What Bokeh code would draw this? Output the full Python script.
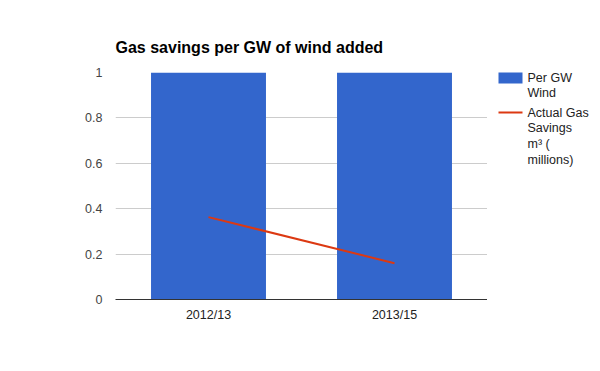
from bokeh.plotting import figure
from bokeh.models import FixedTicker, CustomJSTickFormatter, Range1d
from bokeh.layouts import row
from bokeh.core.properties import value
from bokeh.embed import file_html
from bokeh.resources import INLINE

categories = ["2012/13", "2013/15"]
per_gw_wind = [1.0, 1.0]
actual_gas_savings = [0.363, 0.16]
y_ticks = [0, 0.2, 0.4, 0.6, 0.8, 1]
title_text = "Gas savings per GW of wind added"
legend_bar = ["Per GW", "Wind"]
legend_line = ["Actual Gas", "Savings", "m³ (", "millions)"]

FONT = "Liberation Sans"
BLUE = "#3366cc"
RED = "#dc3912"
LABEL_SIZE = "12.5px"

p = figure(x_range=categories, y_range=(0, 1), width=487, height=371,
           output_backend="svg", toolbar_location=None,
           min_border_left=115, min_border_right=0,
           min_border_top=72, min_border_bottom=72)
p.outline_line_color = None

p.vbar(x=categories, top=per_gw_wind, width=0.618, color=BLUE, line_color=None)
p.line(x=categories, y=actual_gas_savings, line_color=RED, line_width=2)

p.title.text = title_text
p.title.align = "left"
p.title.text_font = FONT
p.title.text_font_size = "16px"
p.title.text_font_style = "bold"
p.title.text_color = "#000000"
p.title.standoff = 33

p.xgrid.grid_line_color = None
p.ygrid.grid_line_color = "#cccccc"
p.ygrid.ticker = FixedTicker(ticks=y_ticks)

p.yaxis.ticker = FixedTicker(ticks=y_ticks)
p.yaxis.formatter = CustomJSTickFormatter(code="return String(Math.round(tick*10)/10)")
p.yaxis.axis_line_color = None
p.yaxis.major_tick_line_color = None
p.yaxis.minor_tick_line_color = None
p.yaxis.major_tick_out = 0
p.yaxis.major_tick_in = 0
p.yaxis.major_label_standoff = 13
p.yaxis.major_label_text_font = FONT
p.yaxis.major_label_text_font_size = LABEL_SIZE
p.yaxis.major_label_text_color = "#444444"

p.xaxis.axis_line_color = "#333333"
p.xaxis.major_tick_line_color = None
p.xaxis.minor_tick_line_color = None
p.xaxis.major_tick_out = 0
p.xaxis.major_tick_in = 0
p.xaxis.major_label_standoff = 8
p.xaxis.major_label_text_font = FONT
p.xaxis.major_label_text_font_size = LABEL_SIZE
p.xaxis.major_label_text_color = "#222222"

# legend panel: frame aligned with the main frame; data units = page pixels (y downward)
lg = figure(x_range=Range1d(487, 600), y_range=Range1d(299, 72), width=113, height=371,
            output_backend="svg", toolbar_location=None,
            min_border=0, min_border_left=0, min_border_right=0,
            min_border_top=72, min_border_bottom=72)
lg.axis.visible = False
lg.grid.visible = False
lg.outline_line_color = None

lg.quad(left=[498], right=[522], top=[71], bottom=[83], fill_color=BLUE, line_color=None)
lg.segment(x0=[498], y0=[112], x1=[522], y1=[112], line_color=RED, line_width=2)

ys_bar = [77 + 15.6 * i for i in range(len(legend_bar))]
ys_line = [112 + 15.9 * i for i in range(len(legend_line))]
lg.text(x=[527] * len(legend_bar), y=ys_bar, text=legend_bar,
        text_font=value(FONT), text_font_size=LABEL_SIZE, text_color="#222222",
        text_baseline="middle")
lg.text(x=[527] * len(legend_line), y=ys_line, text=legend_line,
        text_font=value(FONT), text_font_size=LABEL_SIZE, text_color="#222222",
        text_baseline="middle")

layout = row(p, lg)
open("out.html", "w").write(file_html(layout, INLINE))
